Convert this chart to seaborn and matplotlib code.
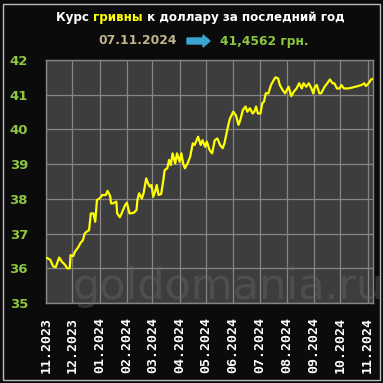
import matplotlib
matplotlib.use("Agg")
import matplotlib.pyplot as plt
import matplotlib.dates as mdates
import pandas as pd
import seaborn as sns

# Data: days after 01.11.2023 and UAH per USD
days = [1, 5, 8, 11, 15, 18, 22, 24, 27, 28, 31, 33, 37, 39, 42, 44, 46, 49, 51, 54,
        56, 58, 61, 64, 68, 70, 73, 74, 76, 80, 81, 84, 86, 90, 92, 95, 100, 103, 104, 106,
        109, 111, 114, 116, 118, 120, 122, 124, 126, 128, 131, 133, 135, 138, 140, 142, 144, 147, 149, 152,
        154, 156, 158, 161, 164, 167, 169, 173, 176, 178, 181, 183, 186, 189, 192, 195, 198, 201, 203, 205,
        207, 209, 213, 216, 219, 221, 224, 227, 229, 232, 235, 237, 239, 241, 244, 246, 248, 250, 253, 256,
        259, 261, 264, 266, 269, 272, 274, 276, 279, 282, 285, 288, 291, 293, 296, 299, 302, 304, 306, 308,
        311, 313, 317, 320, 323, 326, 328, 331, 334, 336, 339, 344, 349, 355, 359, 362, 364, 367, 370, 372]
rate = [36.30, 36.24, 36.06, 36.03, 36.31, 36.19, 36.09, 36.00, 36.00, 36.38, 36.35, 36.48, 36.62, 36.72, 36.81, 37.00, 37.05, 37.10, 37.58, 37.58,
        37.34, 37.97, 38.01, 38.11, 38.11, 38.23, 38.08, 37.87, 37.87, 37.92, 37.58, 37.47, 37.58, 37.82, 37.89, 37.58, 37.60, 37.68, 37.97, 38.16,
        38.01, 38.16, 38.59, 38.45, 38.35, 38.40, 38.06, 38.20, 38.40, 38.11, 38.14, 38.45, 38.83, 38.88, 39.12, 38.97, 39.31, 39.02, 39.31, 39.07,
        39.31, 39.02, 38.88, 39.02, 39.21, 39.60, 39.55, 39.79, 39.55, 39.69, 39.50, 39.65, 39.41, 39.31, 39.69, 39.74, 39.55, 39.46, 39.60, 39.84,
        40.08, 40.30, 40.51, 40.41, 40.13, 40.27, 40.56, 40.66, 40.51, 40.61, 40.46, 40.51, 40.66, 40.46, 40.46, 40.75, 40.80, 41.04, 41.04, 41.28,
        41.42, 41.50, 41.47, 41.28, 41.14, 41.04, 41.14, 41.23, 40.96, 41.09, 41.18, 41.33, 41.18, 41.33, 41.23, 41.33, 41.18, 41.04, 41.23, 41.28,
        41.04, 41.04, 41.23, 41.33, 41.44, 41.33, 41.33, 41.18, 41.18, 41.28, 41.18, 41.18, 41.21, 41.25, 41.28, 41.33, 41.25, 41.33, 41.44, 41.4562]

title_parts = [("Курс ", "white"), ("гривны", "#ffff00"), (" к доллару за последний год", "white")]

start = pd.Timestamp("2023-11-01")
df = pd.DataFrame({"date": start + pd.to_timedelta(days, unit="D"), "rate": rate})

sns.set_style("dark")
plt.rcParams["font.family"] = ["DejaVu Sans"]

fig = plt.figure(figsize=(3.83, 3.83), dpi=100, facecolor="#0b0b0b")
ax = fig.add_axes([46 / 383, 1 - 303 / 383, 327 / 383, 243 / 383])
ax.set_facecolor("#3d3d3d")

# watermark
fig.text(0.595, 0.25, "goldomania.ru", color="#6a6a6a", alpha=0.4, fontsize=31,
         ha="center", va="center", zorder=0)

sns.lineplot(data=df, x="date", y="rate", ax=ax, color="#ffff00", linewidth=1.6, zorder=3)

ax.set_xlim(start, pd.Timestamp("2024-11-07"))
ax.set_ylim(35, 42)
ax.set_yticks(range(35, 43))
ax.xaxis.set_major_locator(mdates.MonthLocator())
ax.xaxis.set_major_formatter(mdates.DateFormatter("%m.%Y"))
ax.grid(True, color="#858585", linewidth=0.9)
ax.set_xlabel("")
ax.set_ylabel("")
for s in ax.spines.values():
    s.set_color("#858585")
    s.set_linewidth(1.0)
    s.set_visible(True)

ax.tick_params(axis="y", colors="#858585", length=5, width=1, pad=8, labelcolor="#8dc63f",
               labelsize=9.5)
ax.tick_params(axis="x", colors="#858585", length=5, width=1, pad=5, labelcolor="white",
               labelsize=9.5, rotation=90)
for lab in ax.get_yticklabels():
    lab.set_fontweight("bold")
for lab in ax.get_xticklabels():
    lab.set_fontweight("bold")
    lab.set_family("DejaVu Sans Mono")

# title in two colours, pieces laid out one after another
fig.canvas.draw()
renderer = fig.canvas.get_renderer()
pieces = []
for txt, col in title_parts:
    t = fig.text(0, 1 - 17 / 383, txt, color=col, fontsize=8.6, fontweight="bold",
                 ha="left", va="center")
    pieces.append(t)
widths = [t.get_window_extent(renderer).width / fig.bbox.width for t in pieces]
x0 = 200 / 383 - sum(widths) / 2
for t, w in zip(pieces, widths):
    t.set_x(x0)
    x0 += w

fig.text(138 / 383, 1 - 41 / 383, "07.11.2024", color="#c2b48c", fontsize=8.8, fontweight="bold",
         ha="center", va="center")
fig.patches.append(matplotlib.patches.FancyArrow(
    187 / 383, 1 - 41 / 383, 23 / 383, 0, width=6 / 383, head_width=12 / 383,
    head_length=7 / 383, length_includes_head=True, color="#3aa6d0",
    transform=fig.transFigure, figure=fig))
fig.text(264 / 383, 1 - 41 / 383, "41,4562 грн.", color="#8dc63f", fontsize=8.8, fontweight="bold",
         ha="center", va="center")

# thin frame round the picture
fig.patches.append(matplotlib.patches.Rectangle(
    (3 / 383, 3 / 383), 377 / 383, 376 / 383, fill=False, edgecolor="#bdbdbd",
    linewidth=1.0, transform=fig.transFigure, figure=fig))

fig.savefig("out.png", dpi=100, facecolor=fig.get_facecolor())
